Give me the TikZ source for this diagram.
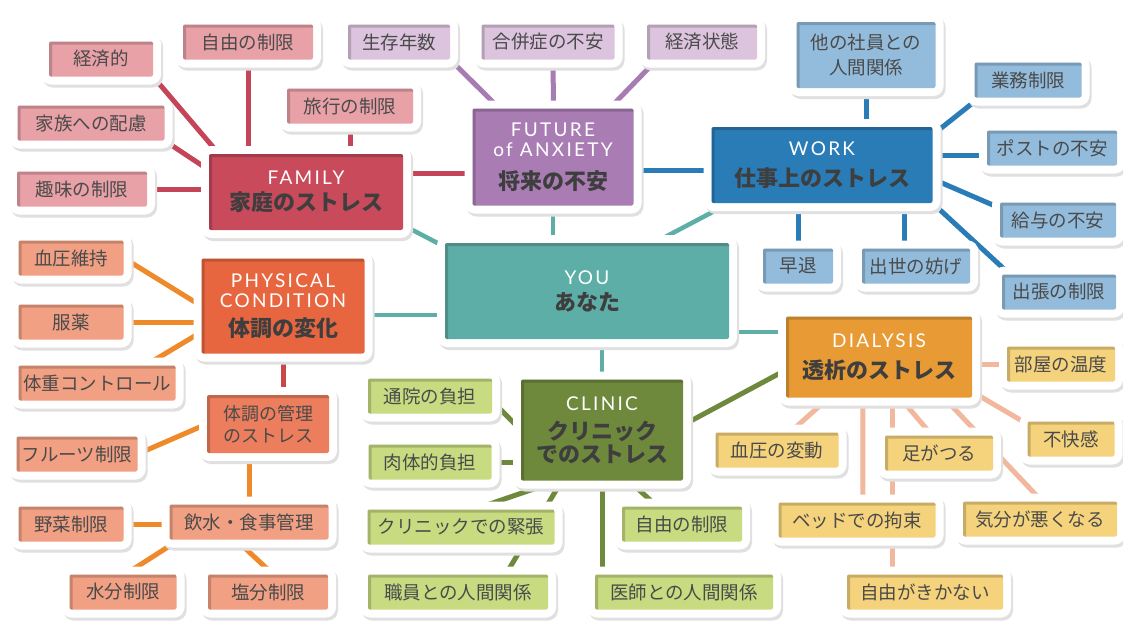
\documentclass[tikz,border=0pt]{standalone}
\usepackage{fontspec}
\setmainfont{Noto Sans CJK JP}
\newfontfamily\engfont{Lato}[LetterSpace=12]
\usepackage{tikz}
\usetikzlibrary{calc, positioning, backgrounds}

\definecolor{famdark}{HTML}{C84A5B}
\definecolor{famlight}{HTML}{E8A1A7}
\definecolor{famline}{HTML}{C54558}
\definecolor{futdark}{HTML}{A97DB4}
\definecolor{futlight}{HTML}{DCC4DE}
\definecolor{futline}{HTML}{A77CB3}
\definecolor{workdark}{HTML}{2A7CB6}
\definecolor{worklight}{HTML}{93BCDC}
\definecolor{youteal}{HTML}{5EAEA8}
\definecolor{physdark}{HTML}{E8663F}
\definecolor{physmid}{HTML}{EC7E5D}
\definecolor{physlight}{HTML}{F1A083}
\definecolor{physline}{HTML}{EF8A2B}
\definecolor{physred}{HTML}{C8484A}
\definecolor{clindark}{HTML}{6E893C}
\definecolor{clinlight}{HTML}{C8DB81}
\definecolor{dialdark}{HTML}{E89B34}
\definecolor{diallight}{HTML}{F5D37C}
\definecolor{dialline}{HTML}{F1B89E}
\definecolor{textgray}{HTML}{4A4A4A}
\definecolor{hubtext}{HTML}{3E3E3E}

\newcommand{\eng}[1]{{\engfont\mdseries\fontsize{19pt}{22pt}\selectfont\color{white}#1}}

\tikzstyle{mind_box}=[rectangle, rounded corners=2pt, inner sep=0pt, align=center,
   preaction={fill=black!12, draw=black!12, line width=16pt, line join=round,
              transform canvas={shift={(2pt,-3pt)}}},
   preaction={draw=white, line width=16pt, line join=round},
   path picture={\draw[black, opacity=0.18, line width=6pt]
      (path picture bounding box.south west) |- (path picture bounding box.north east);}]
\tikzstyle{mind_leaf}=[mind_box, minimum height=35pt, text=textgray,
   font=\fontsize{18.5pt}{25pt}\selectfont]
\tikzstyle{mind_hub}=[mind_box, text=hubtext,
   font=\fontsize{22pt}{26pt}\selectfont\bfseries]

\tikzstyle{fam_hub}=[mind_hub, fill=famdark]
\tikzstyle{fam_leaf}=[mind_leaf, fill=famlight]
\tikzstyle{fut_hub}=[mind_hub, fill=futdark]
\tikzstyle{fut_leaf}=[mind_leaf, fill=futlight]
\tikzstyle{work_hub}=[mind_hub, fill=workdark]
\tikzstyle{work_leaf}=[mind_leaf, fill=worklight]
\tikzstyle{you_hub}=[mind_hub, fill=youteal]
\tikzstyle{phys_hub}=[mind_hub, fill=physdark]
\tikzstyle{phys_mid}=[mind_leaf, fill=physmid, font=\fontsize{18pt}{22pt}\selectfont]
\tikzstyle{phys_leaf}=[mind_leaf, fill=physlight]
\tikzstyle{clin_hub}=[mind_hub, fill=clindark]
\tikzstyle{clin_leaf}=[mind_leaf, fill=clinlight]
\tikzstyle{dial_hub}=[mind_hub, fill=dialdark]
\tikzstyle{dial_leaf}=[mind_leaf, fill=diallight]

\tikzstyle{fam_link}=[draw=famline, line width=5pt]
\tikzstyle{fut_link}=[draw=futline, line width=5pt]
\tikzstyle{work_link}=[draw=workdark, line width=5pt]
\tikzstyle{you_link}=[draw=youteal, line width=4.5pt]
\tikzstyle{phys_link}=[draw=physline, line width=5pt]
\tikzstyle{kanri_link}=[draw=physred, line width=5pt]
\tikzstyle{clin_link}=[draw=clindark, line width=5pt]
\tikzstyle{dial_link}=[draw=dialline, line width=5pt]

\begin{document}
\begin{tikzpicture}[x=1pt, y=-1pt]
\useasboundingbox (0,0) rectangle (1123,621);

% centre
\node [you_hub, minimum width=284pt, minimum height=96pt] (you) at (587,291) {\eng{YOU}\\あなた};

% FAMILY stress
\node [fam_hub, minimum width=194pt, minimum height=76pt] (fam) at (306,192) {\eng{FAMILY}\\家庭のストレス};
\node [fam_leaf, minimum width=104pt] (fam_keizai) at (101,59)  {経済的};
\node [fam_leaf, minimum width=130pt] (fam_jiyu)   at (248,42)  {自由の制限};
\node [fam_leaf, minimum width=147pt] (fam_kazoku) at (91,123)  {家族への配慮};
\node [fam_leaf, minimum width=130pt] (fam_shumi)  at (82,189)  {趣味の制限};
\node [fam_leaf, minimum width=126pt] (fam_ryoko)  at (350,106) {旅行の制限};

% FUTURE anxiety
\node [fut_hub, minimum width=161pt, minimum height=97pt] (fut) at (553,157)
    {\eng{FUTURE}\\[-6pt]\eng{of ANXIETY}\\[7pt]将来の不安};
\node [fut_leaf, minimum width=102pt] (fut_seizon) at (399,42) {生存年数};
\node [fut_leaf, minimum width=133pt] (fut_gappei) at (548,42) {合併症の不安};
\node [fut_leaf, minimum width=110pt] (fut_keizai) at (702,42) {経済状態};

% WORK stress
\node [work_hub, minimum width=221pt, minimum height=76pt] (work) at (822,165) {\eng{WORK}\\[5pt]仕事上のストレス};
\node [work_leaf, minimum width=139pt, minimum height=66pt] (work_hito) at (866,55) {他の社員との\\人間関係};
\node [work_leaf, minimum width=107pt] (work_gyomu)   at (1028,80)  {業務制限};
\node [work_leaf, minimum width=130pt] (work_post)    at (1052,148) {ポストの不安};
\node [work_leaf, minimum width=116pt] (work_kyuyo)   at (1058,220) {給与の不安};
\node [work_leaf, minimum width=114pt] (work_shutcho) at (1059,292) {出張の制限};
\node [work_leaf, minimum width=70pt]  (work_sotai)   at (798,266)  {早退};
\node [work_leaf, minimum width=108pt] (work_shusse)  at (916,266)  {出世の妨げ};

% PHYSICAL condition
\node [phys_hub, minimum width=163pt, minimum height=95pt] (phys) at (283,306)
    {\eng{PHYSICAL}\\[-6pt]\eng{CONDITION}\\[3pt]体調の変化};
\node [phys_leaf, minimum width=105pt] (phys_ketsuatsu) at (71,258) {血圧維持};
\node [phys_leaf, minimum width=105pt] (phys_fukuyaku)  at (71,322) {服薬};
\node [phys_leaf, minimum width=157pt] (phys_taiju)     at (97,383) {体重コントロール};
\node [phys_mid, minimum width=122pt, minimum height=58pt] (phys_kanri) at (268,424) {体調の管理\\のストレス};
\node [phys_leaf, minimum width=121pt] (phys_fruit)  at (77,454)  {フルーツ制限};
\node [phys_leaf, minimum width=159pt] (phys_insui)  at (249,522) {飲水・食事管理};
\node [phys_leaf, minimum width=105pt] (phys_yasai)  at (71,524)  {野菜制限};
\node [phys_leaf, minimum width=107pt] (phys_suibun) at (123,592) {水分制限};
\node [phys_leaf, minimum width=120pt] (phys_enbun)  at (268,592) {塩分制限};

% CLINIC stress
\node [clin_hub, minimum width=162pt, minimum height=101pt] (clin) at (602,430)
    {\eng{CLINIC}\\[3pt]クリニック\\[-3pt]でのストレス};
\node [clin_leaf, minimum width=124pt] (clin_tsuin)   at (430,396) {通院の負担};
\node [clin_leaf, minimum width=123pt] (clin_nikutai) at (430,462) {肉体的負担};
\node [clin_leaf, minimum width=187pt] (clin_kincho)  at (461,527) {クリニックでの緊張};
\node [clin_leaf, minimum width=180pt] (clin_shokuin) at (458,592) {職員との人間関係};
\node [clin_leaf, minimum width=120pt] (clin_jiyu)    at (682,524) {自由の制限};
\node [clin_leaf, minimum width=178pt] (clin_ishi)    at (684,592) {医師との人間関係};

% DIALYSIS stress
\node [dial_hub, minimum width=186pt, minimum height=81pt] (dial) at (879,357) {\eng{DIALYSIS}\\[5pt]透析のストレス};
\node [dial_leaf, minimum width=108pt] (dial_heya)      at (1061,364) {部屋の温度};
\node [dial_leaf, minimum width=87pt]  (dial_fukai)     at (1071,439) {不快感};
\node [dial_leaf, minimum width=123pt] (dial_ketsuatsu) at (777,450)  {血圧の変動};
\node [dial_leaf, minimum width=108pt] (dial_ashi)      at (939,453)  {足がつる};
\node [dial_leaf, minimum width=157pt] (dial_bed)       at (857,520)  {ベッドでの拘束};
\node [dial_leaf, minimum width=154pt] (dial_kibun)     at (1040,519) {気分が悪くなる};
\node [dial_leaf, minimum width=156pt] (dial_jiyu)      at (925,592)  {自由がきかない};

\begin{scope}[on background layer]
\fill [white] (0,0) rectangle (1123,621);

% FAMILY links
\draw [fam_link] (fam_keizai.south east) -- ([xshift=10pt]fam.north west);
\draw [fam_link] (fam_jiyu) -- (fam_jiyu |- fam.north);
\draw [fam_link] (fam_kazoku.south east) -- ([yshift=22pt]fam.west);
\draw [fam_link] (fam_shumi) -- (fam_shumi -| fam.west);
\draw [fam_link] (fam_ryoko) -- (fam_ryoko |- fam.north);
\draw [fam_link] ([yshift=19pt]fam.east) -- ([yshift=-16pt]fut.west);

% FUTURE links
\draw [fut_link] (fut_seizon.south east) -- ([xshift=27pt]fut.north west);
\draw [fut_link] ([xshift=5pt]fut_gappei.south) -- ([xshift=0.5pt]fut.north);
\draw [fut_link] ([xshift=10pt]fut_keizai.south west) -- ([xshift=-24pt]fut.north east);
\draw [work_link] ([yshift=-13pt]fut.east) -- ([yshift=-5pt]work.west);

% WORK links
\draw [work_link] (work_hito) -- (work_hito |- work.north);
\draw [work_link] ([yshift=-8pt]work.north east) -- ([yshift=-4pt]work_gyomu.south west);
\draw [work_link] ([yshift=-7pt]work_post.west) -- ([yshift=10pt]work.east);
\draw [work_link] ([yshift=-14pt]work.east) -- ([yshift=12pt]work_kyuyo.west);
\draw [work_link] (work.south east) -- ([xshift=8pt]work_shutcho.north west);
\draw [work_link] (work_sotai) -- (work_sotai |- work.south);
\draw [work_link] ([xshift=-12pt]work_shusse.north) -- ([xshift=82pt]work.south);

% PHYSICAL links
\draw [phys_link] (phys_ketsuatsu.east) -- (phys.west);
\draw [phys_link] (phys_fukuyaku) -- (phys_fukuyaku -| phys.west);
\draw [phys_link] ([xshift=-30pt]phys_taiju.north east) -- ([yshift=-26pt]phys.west);
\draw [kanri_link] (phys) -- (phys |- phys_kanri.north);
\draw [phys_link] (phys_fruit.east) -- (phys_kanri.west);
\draw [phys_link] (phys_kanri.south -| phys_insui) -- (phys_insui);
\draw [phys_link] (phys_yasai) -- (phys_yasai -| phys_insui.west);
\draw [phys_link] ([xshift=10pt]phys_insui.south west) -- ([xshift=56pt]phys_suibun.north west);
\draw [phys_link] ([xshift=-13pt]phys_insui.south) -- ([xshift=5pt]phys_enbun.north);

% CLINIC links
\draw [clin_link] ([yshift=-5pt]clin_tsuin.east) -- (clin.west);
\draw [clin_link] (clin_nikutai) -- (clin_nikutai -| clin.west);
\draw [clin_link] ([xshift=37pt]clin.south west) -- ([xshift=107pt]clin_kincho.north west);
\draw [clin_link] ([xshift=41pt]clin.south west) -- ([xshift=138pt]clin_shokuin.north west);
\draw [clin_link] (clin) -- (clin |- clin_ishi.north);
\draw [clin_link] ([xshift=27pt]clin.south) -- ([xshift=-25pt]clin_jiyu.north);
\draw [clin_link] ([yshift=5pt]clin.east) -- ([yshift=-13pt]dial.west);

% DIALYSIS links
\draw [dial_link] (dial_heya) -- (dial_heya -| dial.east);
\draw [dial_link] ([yshift=6pt]dial.south east) -- ([yshift=15pt]dial_fukai.west);
\draw [dial_link] ([xshift=43pt]dial.south west) -- ([xshift=13pt]dial_ketsuatsu.north);
\draw [dial_link] ([xshift=77pt]dial.south west) -- ([xshift=6pt]dial_bed.north);
\draw [dial_link] ([xshift=13pt]dial.south) -- ([xshift=-33pt]dial_jiyu.north);
\draw [dial_link] ([xshift=21pt]dial.south) -- ([xshift=-7pt]dial_ashi.north);
\draw [dial_link] ([xshift=65pt]dial.south) -- ([xshift=2pt]dial_kibun.north);

% YOU links
\draw [you_link] ([yshift=5pt]fam.south east) -- ([yshift=-4pt]you.north west);
\draw [you_link] (fut) -- (fut |- you.north);
\draw [you_link] ([xshift=18pt]work.south west) -- ([xshift=-75pt]you.north east);
\draw [you_link] ([yshift=-9pt]phys.east) -- ([yshift=-24pt]you.west);
\draw [you_link] (you.south -| clin) -- (clin);
\draw [you_link] ([yshift=-41pt]you.east) -- ([yshift=25pt]dial.west);
\end{scope}

\end{tikzpicture}
\end{document}
